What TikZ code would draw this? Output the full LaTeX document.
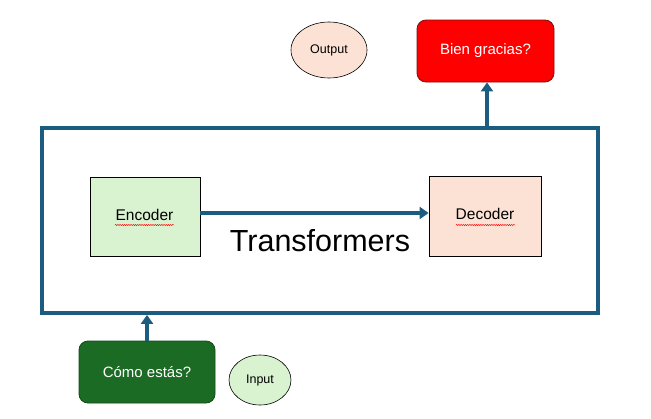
\documentclass[tikz,border=0pt]{standalone}
\usepackage{fontspec}
\setmainfont{Liberation Sans}
\usetikzlibrary{arrows.meta,shapes.geometric,decorations.pathmorphing}
\definecolor{frameblue}{HTML}{1B5C80}
\definecolor{lgreen}{HTML}{D9F2D0}
\definecolor{lpeach}{HTML}{FBE2D5}
\definecolor{dgreen}{HTML}{1C6B25}
\definecolor{dgreenb}{HTML}{124A18}
\definecolor{bred}{HTML}{FF0000}
\definecolor{bredb}{HTML}{7A1010}
\tikzset{
  blockbox/.style={draw=black, line width=0.8pt, minimum width=110pt, minimum height=80pt, inner sep=0pt},
  roundbox/.style={rounded corners=9pt, line width=0.8pt, minimum width=136pt, minimum height=62pt, inner sep=0pt, text=white, font=\fontsize{15}{17}\selectfont},
  oval/.style={ellipse, draw=black, line width=0.6pt, inner sep=0pt, font=\fontsize{12.5}{14}\selectfont},
  conn/.style={draw=frameblue, line width=3.6pt, -{Triangle[width=12pt,length=9pt]}},
  spell/.style={draw=red, line width=0.45pt, decorate, decoration={snake, segment length=2.2pt, amplitude=0.6pt}},
  boxtext/.style={font=\fontsize{15.5}{17}\selectfont}
}
\begin{document}
\begin{tikzpicture}[x=1pt,y=-1pt]
\useasboundingbox (0,0) rectangle (651,418);
% frame
\node[draw=frameblue, line width=3.8pt, minimum width=556pt, minimum height=185pt, inner sep=0pt] (frame) at (320,220.5) {};
\node[font=\fontsize{30.5}{33}\selectfont] (tr) at (320,241) {Transformers};
% encoder / decoder
\node[blockbox, fill=lgreen, minimum width=110pt, minimum height=79pt] (enc) at (145,216.5) {};
\node[boxtext] (enctxt) at (144.5,215) {Encoder};
\node[blockbox, fill=lpeach, minimum width=112pt, minimum height=80pt] (dec) at (485,216) {};
\node[boxtext] (dectxt) at (485,214) {Decoder};
\coordinate (eu1) at (115,225); \coordinate (eu2) at (174,225);
\coordinate (du1) at (456,225); \coordinate (du2) at (515,225);
\draw[spell] (eu1) -- (eu2);
\draw[spell] (du1) -- (du2);
\draw[conn] (enc.east |- 0,213) -- (dec.west |- 0,213);
% output side
\node[oval, fill=lpeach, minimum width=76pt, minimum height=56pt] (out) at (329,50) {Output};
\node[roundbox, fill=bred, draw=bredb, minimum width=137pt] (bien) at (485.5,51) {Bien gracias?};
\draw[conn] (frame.north -| 487,0) -- (bien.south -| 487,0);
% input side
\node[roundbox, fill=dgreen, draw=dgreenb] (como) at (147,372) {Cómo estás?};
\node[oval, fill=lgreen, minimum width=62pt, minimum height=50pt] (inp) at (260,380) {Input};
\draw[conn] (como.north) -- (frame.south -| como.north);
\end{tikzpicture}
\end{document}
